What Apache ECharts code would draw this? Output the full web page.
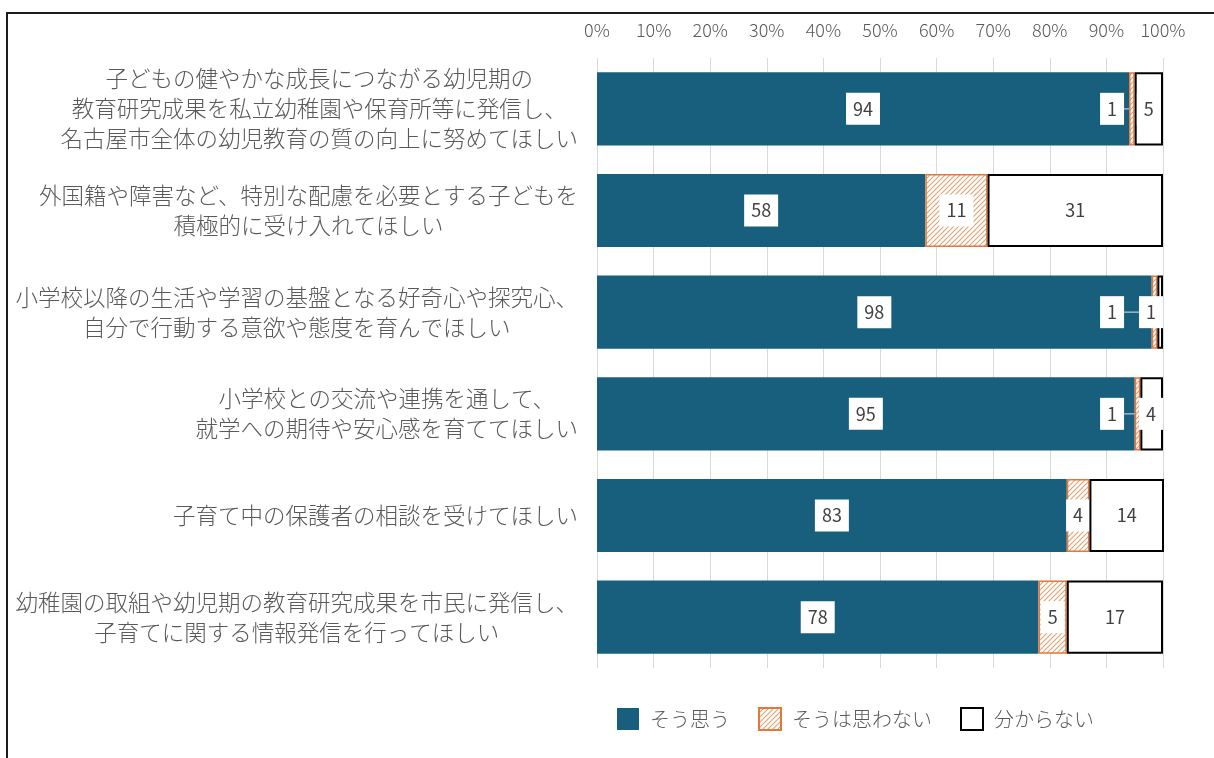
<!DOCTYPE html>
<html lang="ja">
<head>
<meta charset="utf-8">
<title>幼稚園に期待すること</title>
<script src="https://cdn.jsdelivr.net/npm/echarts@6/dist/echarts.min.js"></script>
<style>
  html, body { margin: 0; padding: 0; background: #ffffff; }
  #chart { width: 1214px; height: 758px; }
</style>
</head>
<body>
<div id="chart"></div>
<script>
// Survey items (top to bottom)
const categories = [
  '子どもの健やかな成長につながる幼児期の\n教育研究成果を私立幼稚園や保育所等に発信し、\n名古屋市全体の幼児教育の質の向上に努めてほしい',
  '外国籍や障害など、特別な配慮を必要とする子どもを\n積極的に受け入れてほしい',
  '小学校以降の生活や学習の基盤となる好奇心や探究心、\n自分で行動する意欲や態度を育んでほしい',
  '小学校との交流や連携を通して、\n就学への期待や安心感を育ててほしい',
  '子育て中の保護者の相談を受けてほしい',
  '幼稚園の取組や幼児期の教育研究成果を市民に発信し、\n子育てに関する情報発信を行ってほしい'
];

// Shares (%)
const agreeValues    = [94, 58, 98, 95, 83, 78];
const disagreeValues = [1, 11, 1, 1, 4, 5];
const unknownValues  = [5, 31, 1, 4, 14, 17];

const seriesNames = ['そう思う', 'そうは思わない', '分からない'];
const tickValues = [0, 10, 20, 30, 40, 50, 60, 70, 80, 90, 100];

const FONT = '"Noto Sans CJK JP", "Noto Sans", sans-serif';

// Diagonal hatch used for the "そうは思わない" segments
function makeHatch() {
  const c = document.createElement('canvas');
  c.width = 5; c.height = 5;
  const g = c.getContext('2d');
  g.fillStyle = '#ffffff';
  g.fillRect(0, 0, 5, 5);
  g.strokeStyle = '#DFA273';
  g.lineWidth = 1.1;
  g.beginPath();
  g.moveTo(0, 5); g.lineTo(5, 0);
  g.moveTo(-1, 1); g.lineTo(1, -1);
  g.moveTo(4, 6); g.lineTo(6, 4);
  g.stroke();
  return c;
}
const hatch = { image: makeHatch(), repeat: 'repeat' };

const valueLabel = {
  show: true,
  position: 'inside',
  color: '#404040',
  fontSize: 18,
  fontFamily: FONT,
  backgroundColor: '#ffffff',
  padding: [7, 7]
};

const chart = echarts.init(document.getElementById('chart'), null, { renderer: 'canvas' });

chart.setOption({
  animation: false,
  backgroundColor: '#ffffff',
  textStyle: { fontFamily: FONT },
  graphic: [{
    type: 'rect',
    z: -10,
    shape: { x: 7, y: 13, width: 1400, height: 1000 },
    style: { fill: 'none', stroke: '#1c1c1c', lineWidth: 2 }
  }],
  grid: { left: 597, right: 51, top: 58, bottom: 90 },
  legend: {
    data: seriesNames,
    icon: 'rect',
    left: 612,
    top: 702,
    itemWidth: 22,
    itemHeight: 22,
    itemGap: 28,
    textStyle: { fontSize: 20, color: '#595959', fontFamily: FONT, fontWeight: 300, padding: [0, 0, 0, 6] }
  },
  xAxis: {
    type: 'value',
    position: 'top',
    min: tickValues[0],
    max: tickValues[tickValues.length - 1],
    interval: tickValues[1] - tickValues[0],
    axisLine: { show: false },
    axisTick: { show: false },
    axisLabel: { formatter: '{value}%', color: '#595959', fontSize: 18, margin: 19, fontFamily: FONT, fontWeight: 300 },
    splitLine: { show: true, lineStyle: { color: '#D9D9D9', width: 1 } }
  },
  yAxis: {
    type: 'category',
    inverse: true,
    data: categories,
    axisLine: { show: false },
    axisTick: { show: false },
    axisLabel: {
      margin: 19,
      align: 'right',
      formatter: function (v) {
        return v.split('\n').map(function (l) { return '{c|' + l + '}'; }).join('\n');
      },
      rich: {
        c: { align: 'center', fontSize: 22.5, lineHeight: 30, color: '#595959', fontFamily: FONT, fontWeight: 300 }
      }
    }
  },
  series: [
    {
      name: seriesNames[0],
      type: 'bar',
      stack: 'total',
      barCategoryGap: '28%',
      itemStyle: { color: '#185F7E' },
      label: valueLabel,
      data: agreeValues
    },
    {
      name: seriesNames[1],
      type: 'bar',
      stack: 'total',
      z: 3,
      itemStyle: { color: hatch, borderColor: '#E2783C', borderWidth: 1.5 },
      label: valueLabel,
      labelLine: { show: true, lineStyle: { color: '#9DB8CC', width: 1.5 } },
      // very thin segments get their label pulled left, joined by a leader line
      labelLayout: function (p) {
        const v = disagreeValues[p.dataIndex];
        if (v <= 1) {
          const ppu = p.rect.width / v;
          const x0 = p.rect.x - agreeValues[p.dataIndex] * ppu;
          const target = x0 + 91 * ppu;
          return { dx: target - (p.labelRect.x + p.labelRect.width / 2) };
        }
      },
      data: disagreeValues.map(function (v) {
        return { value: v, labelLine: { show: v <= 1 } };
      })
    },
    {
      name: seriesNames[2],
      type: 'bar',
      stack: 'total',
      z: 4,
      itemStyle: { color: '#ffffff', borderColor: '#000000', borderWidth: 2 },
      label: valueLabel,
      labelLayout: function (p) {
        const over = p.labelRect.x + p.labelRect.width - (p.rect.x + p.rect.width);
        if (over > 0) return { dx: -over };
      },
      data: unknownValues
    }
  ]
});
</script>
</body>
</html>
